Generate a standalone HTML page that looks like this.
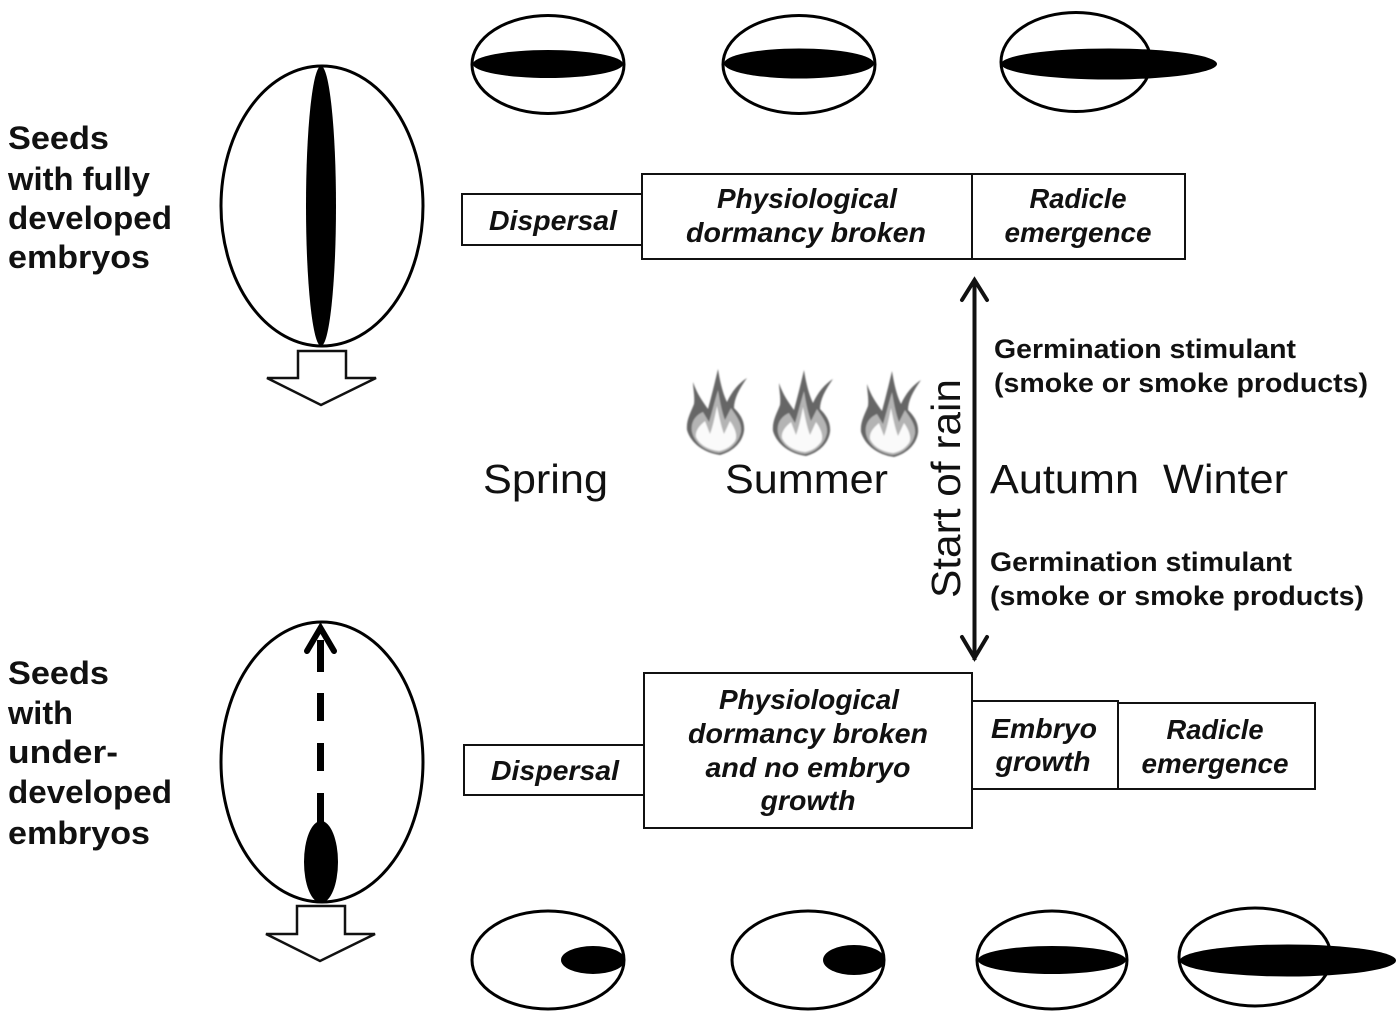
<!DOCTYPE html>
<html><head><meta charset="utf-8"><style>
html,body{margin:0;padding:0;background:#fff}
svg{display:block}
text{font-family:"Liberation Sans",sans-serif;fill:#111}
.l{font-weight:bold;font-size:32px}
.i{font-weight:bold;font-style:italic;font-size:28px;text-anchor:middle}
.g{font-weight:bold;font-size:27px}
.s{font-size:41px}
.b{fill:#fff;stroke:#111;stroke-width:2}
.e{fill:#fff;stroke:#000;stroke-width:3}
.f{fill:#000}
</style></head><body>
<svg width="1400" height="1016" viewBox="0 0 1400 1016" xmlns="http://www.w3.org/2000/svg">
<defs>
<filter id="soft" x="-20%" y="-20%" width="140%" height="140%"><feGaussianBlur stdDeviation="0.9"/></filter>
<g id="flame" filter="url(#soft)">
<path d="M-24 -12C-20 0 -14 8 -9 15C-6 4 -2 -12 1 -25C3 -12 6 0 10 8C15 -3 22 -11 30 -16C22 -5 17 5 17 14C23 20 28 27 27 37C25 50 14 58 3 61C-12 59 -26 50 -30 36C-31 26 -26 18 -23 10C-22 2 -24 -5 -24 -12Z" fill="#666"/>
<path d="M-25 38C-27 26 -19 20 -14 18L-8 28C-5 18 -2 6 1 -4C3 8 5 18 8 26L14 14C21 24 25 30 24 38C21 52 9 58 2 59C-9 58 -22 51 -25 38Z" fill="#b4b4b4"/>
<path d="M-21 43C-22 35 -15 30 -12 27L-7 40C-4 32 -2 22 0 12C2 22 4 32 7 40L13 27C18 34 21 42 18 47C13 54 7 56 2 57C-7 56 -17 52 -21 43Z" fill="#fafafa"/>
</g>
</defs>

<!-- top seeds -->
<ellipse class="e" cx="548" cy="64.500" rx="76" ry="49"/>
<ellipse class="f" cx="548" cy="64" rx="75" ry="14"/>
<ellipse class="e" cx="799" cy="64.500" rx="76" ry="49"/>
<ellipse class="f" cx="799" cy="63.500" rx="75" ry="15"/>
<ellipse class="e" cx="1076" cy="62" rx="75" ry="49.500"/>
<ellipse class="f" cx="1109" cy="64" rx="108" ry="15.500"/>

<!-- big seed top -->
<ellipse class="e" cx="322" cy="206" rx="101" ry="140"/>
<ellipse class="f" cx="321" cy="206" rx="15" ry="140"/>
<path d="M298 351H346V378H376L321 405L267 378H298Z" fill="#fff" stroke="#111" stroke-width="2.500"/>

<!-- big seed bottom -->
<ellipse class="e" cx="322" cy="762" rx="101" ry="140"/>
<ellipse class="f" cx="321" cy="862" rx="17" ry="41"/>
<rect class="f" x="317" y="640" width="7" height="32"/>
<rect class="f" x="317" y="693" width="7" height="28"/>
<rect class="f" x="317" y="743" width="7" height="28"/>
<rect class="f" x="317" y="793" width="7" height="32"/>
<path d="M307 651L320.500 628L334 651" fill="none" stroke="#000" stroke-width="6" stroke-linecap="round"/>
<path d="M297 906H345V934H375L320 961L266 934H297Z" fill="#fff" stroke="#111" stroke-width="2.500"/>

<!-- left labels -->
<text class="l" x="8" y="149" textLength="101" lengthAdjust="spacingAndGlyphs">Seeds</text>
<text class="l" x="8" y="190" textLength="142" lengthAdjust="spacingAndGlyphs">with fully</text>
<text class="l" x="8" y="229" textLength="164" lengthAdjust="spacingAndGlyphs">developed</text>
<text class="l" x="8" y="268" textLength="142" lengthAdjust="spacingAndGlyphs">embryos</text>
<text class="l" x="8" y="684" textLength="101" lengthAdjust="spacingAndGlyphs">Seeds</text>
<text class="l" x="8" y="724" textLength="65" lengthAdjust="spacingAndGlyphs">with</text>
<text class="l" x="8" y="763" textLength="110" lengthAdjust="spacingAndGlyphs">under-</text>
<text class="l" x="8" y="803" textLength="164" lengthAdjust="spacingAndGlyphs">developed</text>
<text class="l" x="8" y="844" textLength="142" lengthAdjust="spacingAndGlyphs">embryos</text>

<!-- top boxes -->
<rect class="b" x="462" y="194" width="180" height="51"/>
<rect class="b" x="642" y="174" width="330" height="85"/>
<rect class="b" x="972" y="174" width="213" height="85"/>
<text class="i" x="553" y="230" textLength="128" lengthAdjust="spacingAndGlyphs">Dispersal</text>
<text class="i" x="807" y="208" textLength="180" lengthAdjust="spacingAndGlyphs">Physiological</text>
<text class="i" x="806" y="242" textLength="240" lengthAdjust="spacingAndGlyphs">dormancy broken</text>
<text class="i" x="1078" y="208" textLength="97" lengthAdjust="spacingAndGlyphs">Radicle</text>
<text class="i" x="1078" y="242" textLength="147" lengthAdjust="spacingAndGlyphs">emergence</text>

<!-- bottom boxes -->
<rect class="b" x="464" y="745" width="180" height="50"/>
<rect class="b" x="644" y="673" width="328" height="155"/>
<rect class="b" x="972" y="701" width="146" height="88"/>
<rect class="b" x="1118" y="703" width="197" height="86"/>
<text class="i" x="555" y="780" textLength="128" lengthAdjust="spacingAndGlyphs">Dispersal</text>
<text class="i" x="809" y="709" textLength="180" lengthAdjust="spacingAndGlyphs">Physiological</text>
<text class="i" x="808" y="743" textLength="240" lengthAdjust="spacingAndGlyphs">dormancy broken</text>
<text class="i" x="808" y="777" textLength="205" lengthAdjust="spacingAndGlyphs">and no embryo</text>
<text class="i" x="808" y="810" textLength="95" lengthAdjust="spacingAndGlyphs">growth</text>
<text class="i" x="1044" y="738" textLength="106" lengthAdjust="spacingAndGlyphs">Embryo</text>
<text class="i" x="1043" y="771" textLength="95" lengthAdjust="spacingAndGlyphs">growth</text>
<text class="i" x="1215" y="739" textLength="97" lengthAdjust="spacingAndGlyphs">Radicle</text>
<text class="i" x="1215" y="773" textLength="147" lengthAdjust="spacingAndGlyphs">emergence</text>

<!-- center -->
<use href="#flame" x="717" y="394"/>
<use href="#flame" x="803" y="395"/>
<use href="#flame" x="891" y="396"/>
<text class="s" x="483" y="493" textLength="125" lengthAdjust="spacingAndGlyphs">Spring</text>
<text class="s" x="725" y="493" textLength="163" lengthAdjust="spacingAndGlyphs">Summer</text>
<text class="s" x="990" y="493" textLength="149" lengthAdjust="spacingAndGlyphs">Autumn</text>
<text class="s" x="1163" y="493" textLength="125" lengthAdjust="spacingAndGlyphs">Winter</text>
<text class="s" transform="translate(960,598) rotate(-90)" x="0" y="0" textLength="219" lengthAdjust="spacingAndGlyphs">Start of rain</text>

<path d="M974.500 280V660" stroke="#111" stroke-width="4" fill="none"/>
<path d="M962 300L974.500 280L987 300M962 637L974.500 658L987 637" fill="none" stroke="#111" stroke-width="4" stroke-linecap="round"/>

<text class="g" x="994" y="358" textLength="302" lengthAdjust="spacingAndGlyphs">Germination stimulant</text>
<text class="g" x="994" y="392" textLength="374" lengthAdjust="spacingAndGlyphs">(smoke or smoke products)</text>
<text class="g" x="990" y="571" textLength="302" lengthAdjust="spacingAndGlyphs">Germination stimulant</text>
<text class="g" x="990" y="605" textLength="374" lengthAdjust="spacingAndGlyphs">(smoke or smoke products)</text>

<!-- bottom seeds -->
<ellipse class="e" cx="548" cy="960" rx="76" ry="49"/>
<ellipse class="f" cx="593" cy="960" rx="32" ry="14"/>
<ellipse class="e" cx="808" cy="960" rx="76" ry="49"/>
<ellipse class="f" cx="854" cy="960" rx="31" ry="15"/>
<ellipse class="e" cx="1052" cy="960" rx="75" ry="49"/>
<ellipse class="f" cx="1052" cy="960" rx="74" ry="14"/>
<ellipse class="e" cx="1255" cy="957" rx="76" ry="49"/>
<ellipse class="f" cx="1288" cy="960.500" rx="108" ry="16"/>
</svg>
</body></html>
